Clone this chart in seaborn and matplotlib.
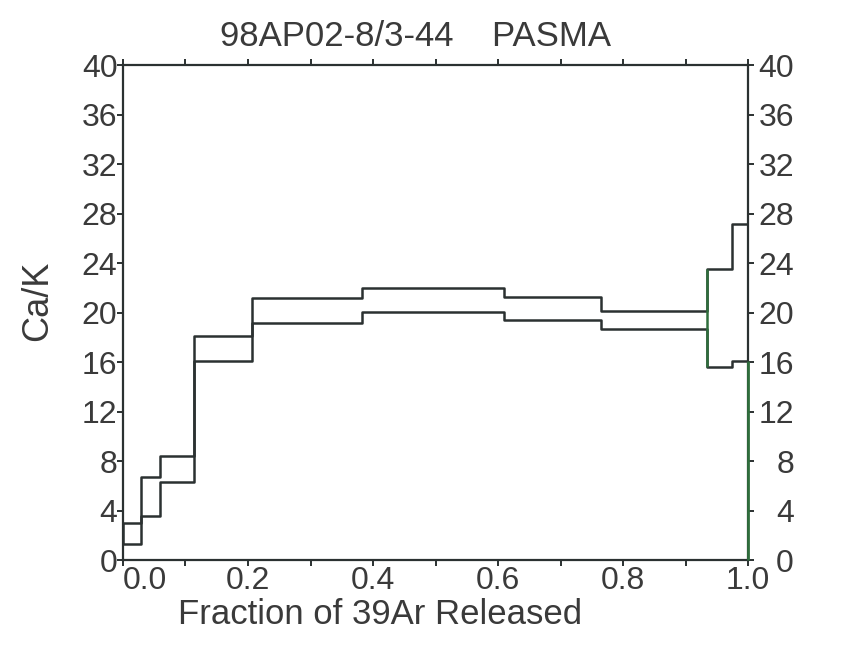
import numpy as np
import pandas as pd
import matplotlib
matplotlib.use('Agg')
import matplotlib.pyplot as plt
import seaborn as sns

# step boundaries (fraction of 39Ar released) and Ca/K envelope per step
bounds = [0.0, 0.029, 0.059, 0.114, 0.206, 0.383, 0.609, 0.764, 0.934, 0.974, 1.0]
upper = [3.05, 6.7, 8.4, 18.1, 21.2, 22.0, 21.3, 20.15, 23.5, 27.2]
lower = [1.3, 3.55, 6.3, 16.1, 19.15, 20.1, 19.4, 18.7, 15.6, 16.1]

title = '98AP02-8/3-44    PASMA'
xticks = [0.0, 0.1, 0.2, 0.3, 0.4, 0.5, 0.6, 0.7, 0.8, 0.9, 1.0]
xticklabels = ['0.0', '', '0.2', '', '0.4', '', '0.6', '', '0.8', '', '1.0']
yticks = list(range(0, 41, 4))

sns.set_style('white')
plt.rcParams['font.family'] = ['Liberation Sans', 'DejaVu Sans']

ink = '#2b3131'
green = '#2f6e3c'
txt = '#3a3a3a'

# long table for the two step lines
rows = []
for name, vals in [('upper', upper), ('lower', lower)]:
    ys = vals + [vals[-1]]
    for x, y in zip(bounds, ys):
        rows.append({'x': x, 'ca_k': y, 'edge': name})
df = pd.DataFrame(rows)

fig = plt.figure(figsize=(8.54, 6.53), dpi=100)
ax = fig.add_axes([0.144, 0.142, 0.732, 0.758])

# right axis: same scale, labels right-aligned (drawn first, no spines)
ax2 = ax.twinx()
ax2.set_ylim(0, 40)
ax2.set_yticks(yticks)
ax2.set_yticklabels([str(v) for v in yticks])
ax2.tick_params(axis='y', direction='out', length=4, width=1.4, color=ink,
                labelsize=23, labelcolor=txt, pad=29)
for lab in ax2.get_yticklabels():
    lab.set_horizontalalignment('right')
for s in ax2.spines.values():
    s.set_visible(False)
ax.set_zorder(ax2.get_zorder() + 1)
ax.patch.set_visible(False)

sns.lineplot(data=df, x='x', y='ca_k', units='edge', estimator=None,
             drawstyle='steps-post', color=ink, linewidth=1.8, ax=ax, legend=False)

# left side of first box and the green edge of the 9th step
ax.vlines(bounds[0], lower[0], upper[0], color=ink, linewidth=1.8)
ax.vlines(bounds[8], lower[8], upper[8], color=green, linewidth=1.8, zorder=5)

ax.set_xlim(0, 1.0)
ax.set_ylim(0, 40)
ax.set_xticks(xticks)
ax.set_xticklabels(xticklabels)
ax.set_yticks(yticks)
ax.set_yticklabels([str(v) for v in yticks])
ax.set_xlabel('')
ax.set_ylabel('')

for s in ax.spines.values():
    s.set_color(ink)
    s.set_linewidth(1.6)
# lower part of the right axis is green
ax.vlines(bounds[-1], 0, lower[-1], color=green, linewidth=2.0, zorder=6, clip_on=False)

ax.tick_params(axis='x', which='both', direction='out', top=True, bottom=True,
               length=4, width=1.4, color=ink, labelsize=23, labelcolor=txt, pad=0)
ax.tick_params(axis='y', which='both', direction='out', left=True, right=False,
               length=4, width=1.4, color=ink, labelsize=23, labelcolor=txt, pad=0)
# first x label starts at the axis instead of centring on it
ax.get_xticklabels()[0].set_horizontalalignment('left')

fig.text(416 / 854, 1 - 37 / 653, title, fontsize=25, color=txt, ha='center', va='center')
fig.text(380 / 854, 1 - 614 / 653, 'Fraction of 39Ar Released', fontsize=25, color=txt,
         ha='center', va='center')
fig.text(38 / 854, 1 - 301 / 653, 'Ca/K', fontsize=26, color=txt, ha='center', va='center',
         rotation=90)

plt.savefig('out.png', dpi=100)
